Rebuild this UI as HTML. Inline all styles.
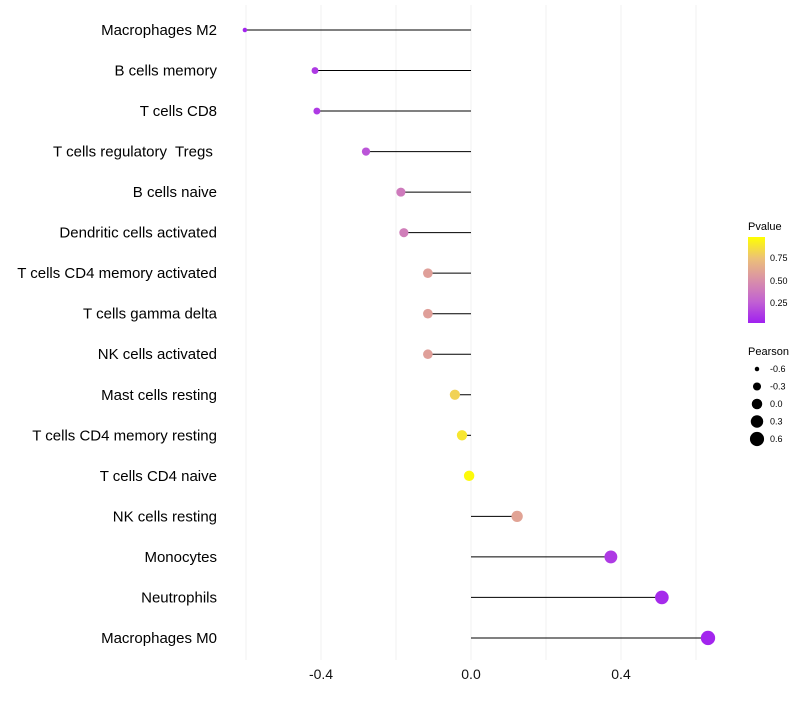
<!DOCTYPE html>
<html><head><meta charset="utf-8"><style>
body{margin:0;background:#fff;font-family:"Liberation Sans",sans-serif}
text{white-space:pre}
</style></head><body>
<svg id="chart" width="800" height="700" xmlns="http://www.w3.org/2000/svg">
<defs><linearGradient id="pg" x1="0" y1="1" x2="0" y2="0">
<stop offset="0" stop-color="#a020f0"/><stop offset="0.25" stop-color="#c262d2"/><stop offset="0.5" stop-color="#d990a8"/><stop offset="0.75" stop-color="#ecc078"/><stop offset="1" stop-color="#ffff00"/>
</linearGradient></defs>
<g id="grid"></g><g id="marks"></g><g id="labels"></g>
<g>
<text x="748" y="230" font-size="11">Pvalue</text>
<rect x="748" y="237" width="17" height="86" fill="url(#pg)"/>
<text x="770" y="261" font-size="9">0.75</text>
<text x="770" y="284" font-size="9">0.50</text>
<text x="770" y="306" font-size="9">0.25</text>
</g>
<g id="sizeleg">
<text x="748" y="355" font-size="11">Pearson</text>
</g>
</svg>
<script>
const categories=["Macrophages M2","B cells memory","T cells CD8","T cells regulatory  Tregs ","B cells naive","Dendritic cells activated","T cells CD4 memory activated","T cells gamma delta","NK cells activated","Mast cells resting","T cells CD4 memory resting","T cells CD4 naive","NK cells resting","Monocytes","Neutrophils","Macrophages M0"];
const pearson=[-0.603,-0.416,-0.411,-0.28,-0.187,-0.179,-0.115,-0.115,-0.115,-0.043,-0.024,-0.005,0.123,0.373,0.509,0.632];
const pvalue=[0.02,0.1,0.1,0.2,0.38,0.4,0.58,0.58,0.58,0.82,0.9,0.98,0.6,0.1,0.04,0.02];
const xTicks=[-0.4,0,0.4];
const xTickLabels=["-0.4","0.0","0.4"];
const sizeLegend=[-0.6,-0.3,0.0,0.3,0.6];
const NS="http://www.w3.org/2000/svg";
const X=v=>471+v*375;
const Y=i=>30+i*40.53;
const R=v=>Math.sqrt(5+(v+0.6)/1.2*45);
function col(p){const s=[[0,[160,32,240]],[0.25,[194,98,210]],[0.5,[217,144,168]],[0.75,[236,192,120]],[1,[255,255,0]]];
for(let k=1;k<s.length;k++){if(p<=s[k][0]){const t=(p-s[k-1][0])/(s[k][0]-s[k-1][0]);const c=s[k-1][1].map((a,j)=>Math.round(a+(s[k][1][j]-a)*t));return `rgb(${c})`;}}return "rgb(255,255,0)";}
function el(t,a,parent){const e=document.createElementNS(NS,t);for(const k in a)e.setAttribute(k,a[k]);parent.appendChild(e);return e;}
const grid=document.getElementById('grid'),marks=document.getElementById('marks'),labels=document.getElementById('labels');
[-0.6,-0.4,-0.2,0,0.2,0.4,0.6].forEach(v=>{const l=el('line',{x1:X(v),x2:X(v),y1:5,y2:660,stroke:'#f0f0f0','stroke-width':1},grid);

});
xTicks.forEach((v,i)=>{const t=el('text',{x:X(v),y:679,'font-size':14,'text-anchor':'middle',fill:'#111'},labels);t.textContent=xTickLabels[i];

});
categories.forEach((c,i)=>{
const t=el('text',{x:217,y:Y(i)+5,'font-size':15,'text-anchor':'end',fill:'#000'},labels);t.textContent=c;


const l=el('line',{x1:X(0),x2:X(pearson[i]),y1:Y(i),y2:Y(i),stroke:'#000','stroke-width':1},marks);


const d=el('circle',{cx:X(pearson[i]),cy:Y(i),r:R(pearson[i]),fill:col(pvalue[i])},marks);


});
const sl=document.getElementById('sizeleg');
sizeLegend.forEach((v,i)=>{const y=369+i*17.5;
const c=el('circle',{cx:757,cy:y,r:R(v),fill:'#000'},sl);


const t=el('text',{x:770,y:y+3,'font-size':9},sl);t.textContent=v.toFixed(1);

});
</script>
</body></html>
